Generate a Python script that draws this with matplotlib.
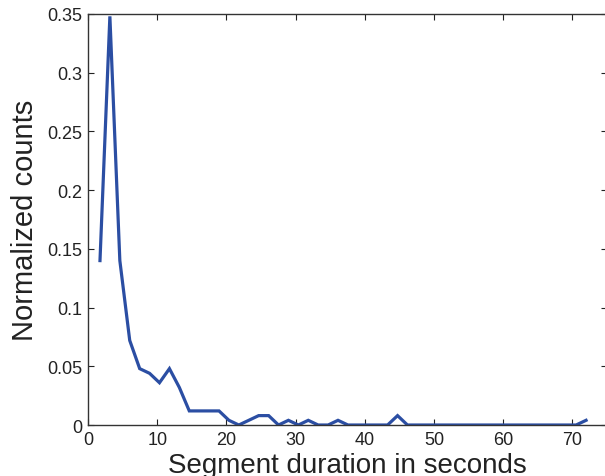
import matplotlib
matplotlib.use('agg')
from matplotlib import pyplot as plt

# bin centres (seconds) and normalized counts
DURATION = [1.72, 3.15, 4.59, 6.02, 7.46, 8.89, 10.32, 11.76, 13.19, 14.63,
            16.06, 17.49, 18.93, 20.36, 21.79, 23.23, 24.66, 26.10, 27.53, 28.96,
            30.40, 31.83, 33.26, 34.70, 36.13, 37.57, 39.00, 40.44, 41.87, 43.30,
            44.74, 46.17, 47.61, 49.04, 50.48, 51.91, 53.34, 54.78, 56.21, 57.65,
            59.08, 60.51, 61.95, 63.38, 64.82, 66.25, 67.68, 69.12, 70.55, 71.99]
COUNTS = [0.140, 0.348, 0.140, 0.072, 0.048, 0.044, 0.036, 0.048, 0.032, 0.012,
          0.012, 0.012, 0.012, 0.004, 0.0, 0.004, 0.008, 0.008, 0.0, 0.004,
          0.0, 0.004, 0.0, 0.0, 0.004, 0.0, 0.0, 0.0, 0.0, 0.0,
          0.008, 0.0, 0.0, 0.0, 0.0, 0.0, 0.0, 0.0, 0.0, 0.0,
          0.0, 0.0, 0.0, 0.0, 0.0, 0.0, 0.0, 0.0, 0.0, 0.004]

X_TICKS = [0, 10, 20, 30, 40, 50, 60, 70]
Y_TICKS = [0, 0.05, 0.1, 0.15, 0.2, 0.25, 0.3, 0.35]
Y_LABELS = ['0', '0.05', '0.1', '0.15', '0.2', '0.25', '0.3', '0.35']

plt.rcParams['font.family'] = ['Liberation Sans', 'DejaVu Sans']

fig = plt.figure(figsize=(6.05, 4.77), dpi=100)
ax = fig.add_axes([0.1456, 0.1069, 0.8575, 0.8617])
ax.plot(DURATION, COUNTS, color='#2b4ea3', linewidth=2.3, solid_joinstyle='miter')

ax.set_xlim(0, 75)
ax.set_ylim(0, 0.35)
ax.set_xticks(X_TICKS)
ax.set_yticks(Y_TICKS)
ax.set_yticklabels(Y_LABELS)
ax.tick_params(direction='in', length=4, width=0.8, top=True, right=True,
               labelsize=13, colors='#222222', pad=4)
for sp in ax.spines.values():
    sp.set_linewidth(1.0)
    sp.set_color('#333333')

ax.set_xlabel('Segment duration in seconds', fontsize=20, color='#222222', labelpad=3)
ax.set_ylabel('Normalized counts', fontsize=21, color='#222222', labelpad=6)

fig.savefig('out.png', dpi=100)
